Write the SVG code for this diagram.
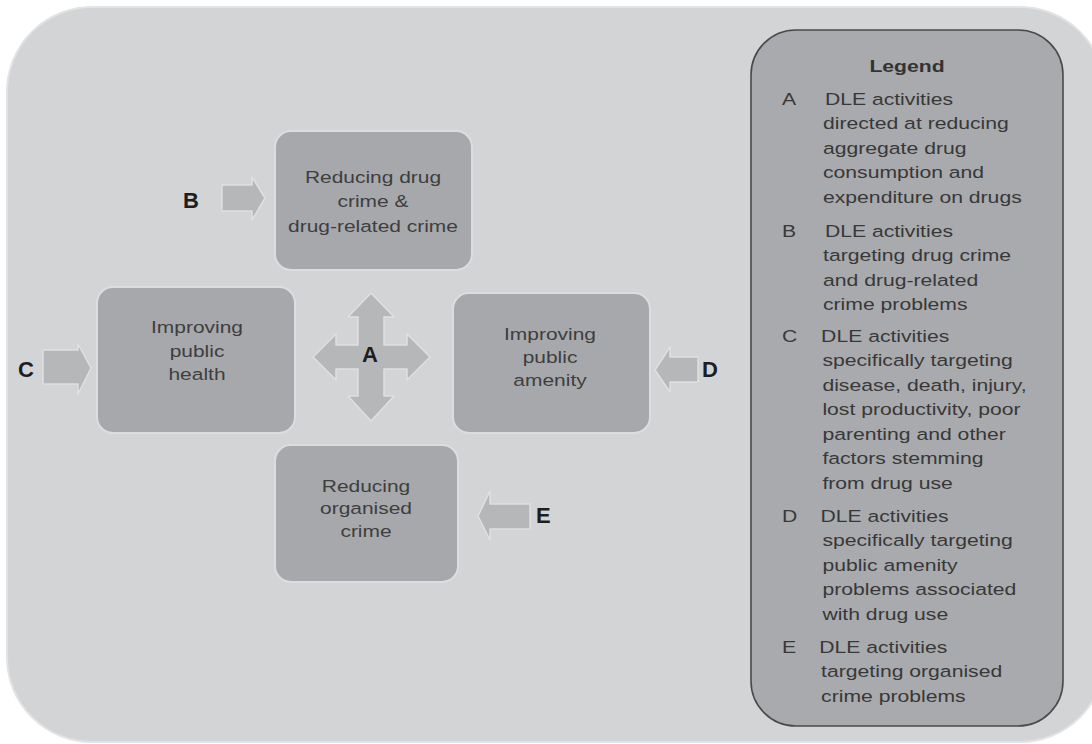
<svg xmlns="http://www.w3.org/2000/svg" width="1092" height="744" viewBox="0 0 1092 744">
  <defs>
    <style>
      .node { fill: #a7a8ab; stroke: #dcdde0; stroke-width: 2; }
      .ntext { font-family: "Liberation Sans", Arial, sans-serif; font-size: 16.5px; fill: #3e3e3e; text-anchor: middle; }
      .arrow { fill: #b6b7b9; stroke: #dfe0e2; stroke-width: 1.5; stroke-linejoin: round; }
      .lbl { font-family: "Liberation Sans", Arial, sans-serif; font-size: 22px; font-weight: bold; fill: #1e1e1e; }
      .ltext { font-family: "Liberation Sans", Arial, sans-serif; font-size: 16.8px; fill: #383838; }
      .lhead { font-family: "Liberation Sans", Arial, sans-serif; font-size: 16.8px; font-weight: bold; fill: #333; text-anchor: middle; }
    </style>
  </defs>
  <rect x="0" y="0" width="1092" height="744" fill="#ffffff"/>
  <rect id="background" x="7" y="7" width="1098" height="735" rx="85" ry="85" fill="#d3d4d6" stroke="#e2e3e5" stroke-width="2"/>

  <g id="legend">
    <rect x="751" y="30" width="312" height="696" rx="45" ry="45" fill="#a9aaad" stroke="#4a4a4a" stroke-width="1.6"/>
    <g transform="translate(907,0) scale(1.26,1)">
      <text class="lhead" x="0" y="72">Legend</text>
    </g>
    <g transform="translate(823,0) scale(1.26,1)">
      <text class="ltext" x="-32.5" y="105">A</text>
      <text class="ltext" x="1.5" y="105">DLE activities</text>
      <text class="ltext" x="0" y="129.5">directed at reducing</text>
      <text class="ltext" x="0" y="154">aggregate drug</text>
      <text class="ltext" x="0" y="178.5">consumption and</text>
      <text class="ltext" x="0" y="203">expenditure on drugs</text>

      <text class="ltext" x="-32.5" y="237">B</text>
      <text class="ltext" x="1.5" y="237">DLE activities</text>
      <text class="ltext" x="0" y="261.5">targeting drug crime</text>
      <text class="ltext" x="0" y="286">and drug-related</text>
      <text class="ltext" x="0" y="310.5">crime problems</text>

      <text class="ltext" x="-32.5" y="342">C</text>
      <text class="ltext" x="-1.5" y="342">DLE activities</text>
      <text class="ltext" x="-0.5" y="366.5">specifically targeting</text>
      <text class="ltext" x="-0.5" y="391">disease, death, injury,</text>
      <text class="ltext" x="-0.5" y="415.5">lost productivity, poor</text>
      <text class="ltext" x="-0.5" y="440">parenting and other</text>
      <text class="ltext" x="-0.5" y="464.5">factors stemming</text>
      <text class="ltext" x="-0.5" y="489">from drug use</text>

      <text class="ltext" x="-32.5" y="522">D</text>
      <text class="ltext" x="-2" y="522">DLE activities</text>
      <text class="ltext" x="-0.5" y="546.5">specifically targeting</text>
      <text class="ltext" x="-0.5" y="571">public amenity</text>
      <text class="ltext" x="-0.5" y="595.5">problems associated</text>
      <text class="ltext" x="-0.5" y="620">with drug use</text>

      <text class="ltext" x="-32.5" y="653">E</text>
      <text class="ltext" x="-3" y="653">DLE activities</text>
      <text class="ltext" x="-1.5" y="677.5">targeting organised</text>
      <text class="ltext" x="-1.5" y="702">crime problems</text>
    </g>
  </g>

  <g id="node-drug-crime">
    <rect class="node" x="275" y="131" width="197" height="139" rx="16" ry="16"/>
    <g transform="translate(373,0) scale(1.27,1)">
      <text class="ntext" x="0" y="183">Reducing drug</text>
      <text class="ntext" x="0" y="207">crime &amp;</text>
      <text class="ntext" x="0" y="232">drug-related crime</text>
    </g>
  </g>

  <g id="node-public-health">
    <rect class="node" x="97" y="287" width="198" height="146" rx="16" ry="16"/>
    <g transform="translate(197,0) scale(1.27,1)">
      <text class="ntext" x="0" y="333">Improving</text>
      <text class="ntext" x="0" y="357">public</text>
      <text class="ntext" x="0" y="380">health</text>
    </g>
  </g>

  <g id="node-public-amenity">
    <rect class="node" x="453" y="293" width="197" height="140" rx="16" ry="16"/>
    <g transform="translate(550,0) scale(1.27,1)">
      <text class="ntext" x="0" y="340">Improving</text>
      <text class="ntext" x="0" y="363">public</text>
      <text class="ntext" x="0" y="386">amenity</text>
    </g>
  </g>

  <g id="node-organised-crime">
    <rect class="node" x="275" y="445" width="183" height="137" rx="16" ry="16"/>
    <g transform="translate(366,0) scale(1.27,1)">
      <text class="ntext" x="0" y="492">Reducing</text>
      <text class="ntext" x="0" y="514">organised</text>
      <text class="ntext" x="0" y="537">crime</text>
    </g>
  </g>

  <g id="connectors">
    <g id="arrow-A">
      <polygon class="arrow" points="371,293 394,317 384,317 384,345 407,345 407,334 430,357 407,380 407,369 384,369 384,396 394,396 371,421 348,396 358,396 358,369 336,369 336,380 313,357 336,334 336,345 358,345 358,317 348,317"/>
      <text class="lbl" x="370" y="362" text-anchor="middle">A</text>
    </g>
    <g id="arrow-B">
      <polygon class="arrow" points="222,185 252,185 252,177 265,198 252,220 252,211 222,211"/>
      <text class="lbl" x="183" y="208">B</text>
    </g>
    <g id="arrow-C">
      <polygon class="arrow" points="43,350 78,350 78,344 91,368 78,394 78,384 43,384"/>
      <text class="lbl" x="18" y="377">C</text>
    </g>
    <g id="arrow-D">
      <polygon class="arrow" points="698,357 670,357 670,347 655,370 670,392 670,382 698,382"/>
      <text class="lbl" x="702" y="377">D</text>
    </g>
    <g id="arrow-E">
      <polygon class="arrow" points="530,504 490,504 490,491 478,516 490,540 490,529 530,529"/>
      <text class="lbl" x="536" y="523">E</text>
    </g>
  </g>
</svg>
